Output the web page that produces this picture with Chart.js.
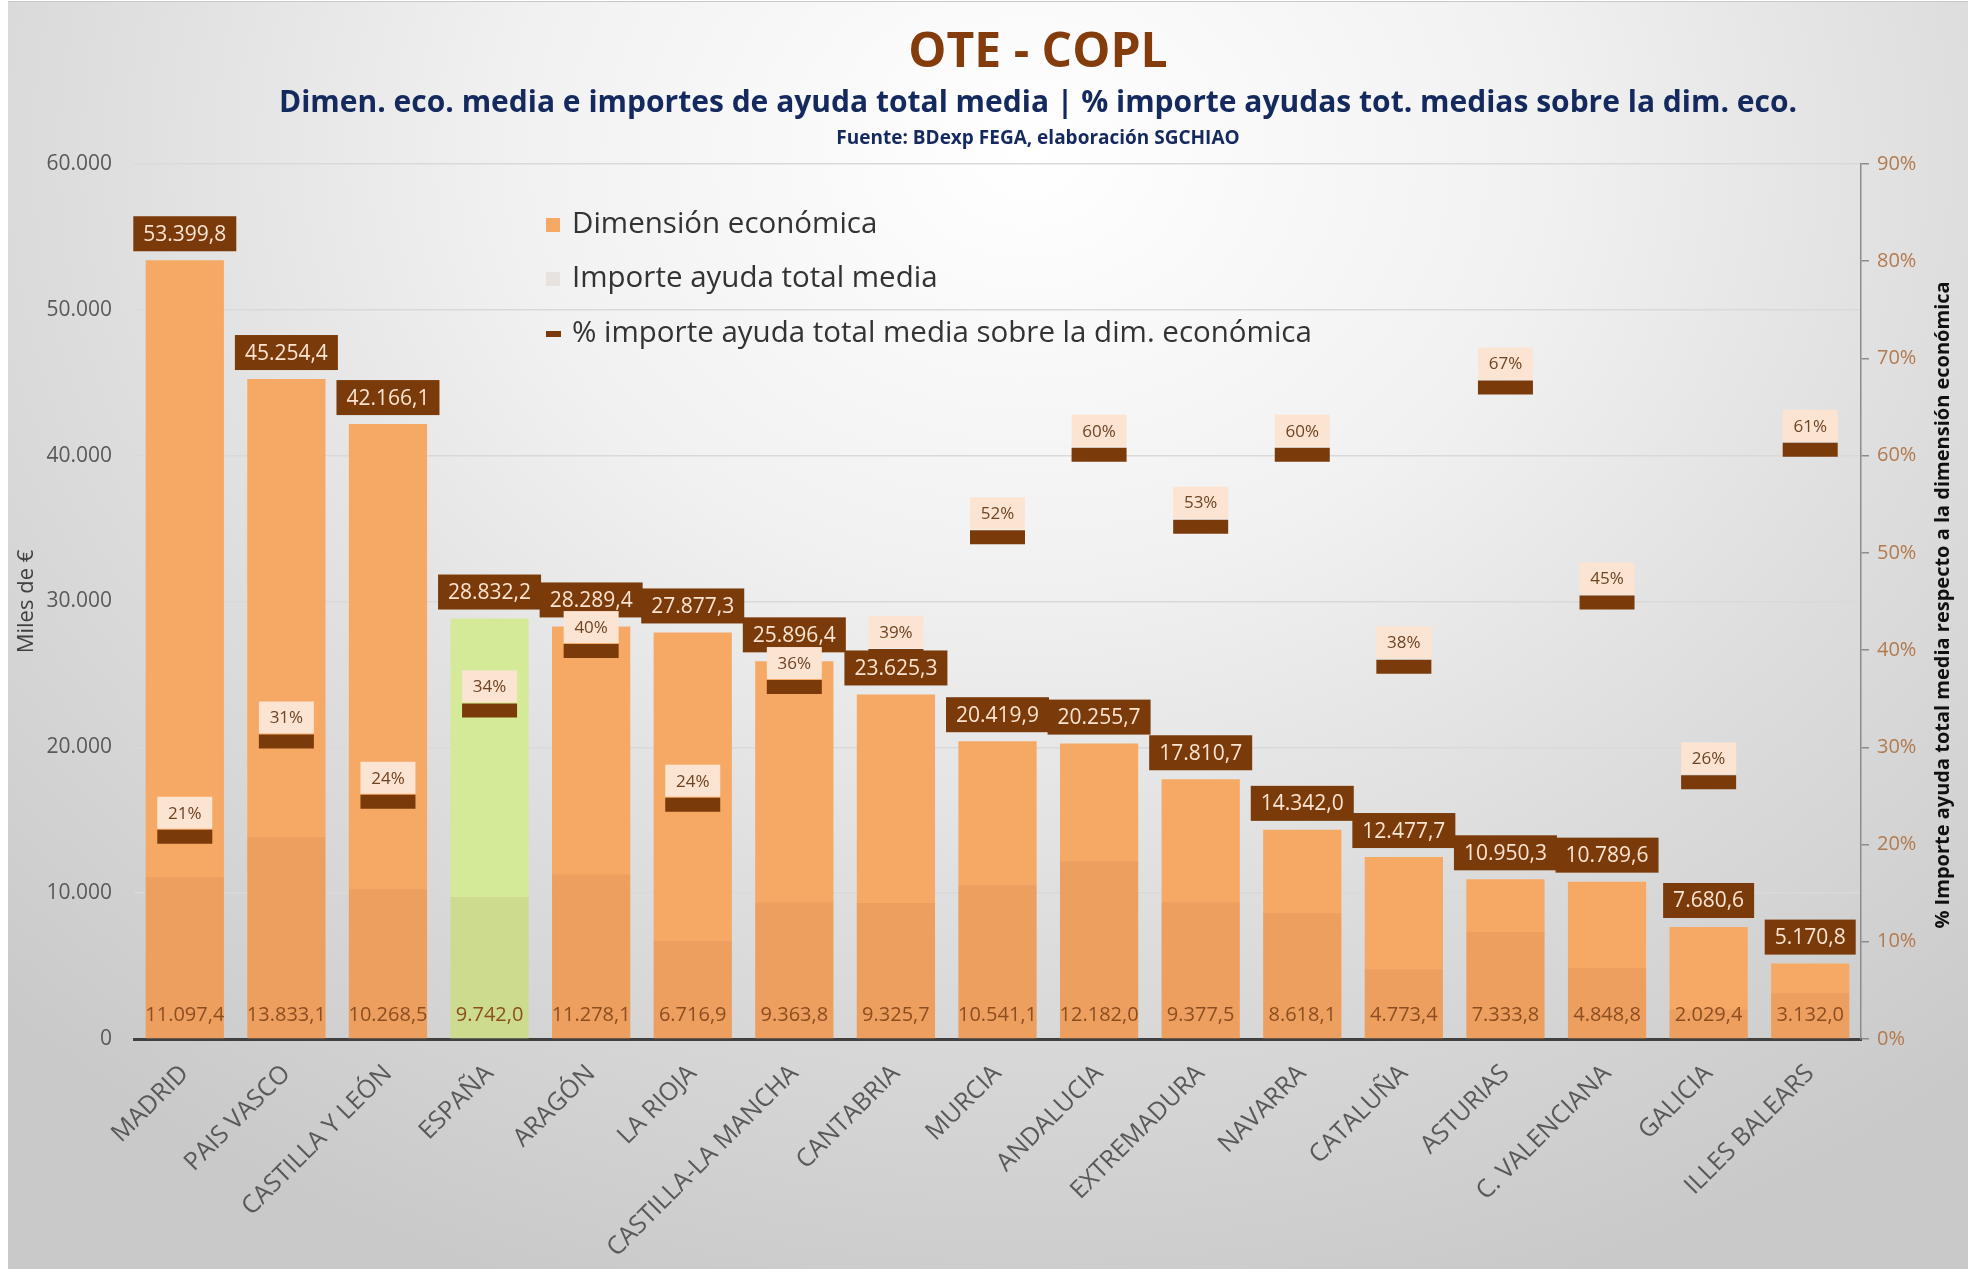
<!DOCTYPE html>
<html>
<head>
<meta charset="utf-8">
<script src="https://cdn.jsdelivr.net/npm/chart.js@4.4.1/dist/chart.umd.min.js"></script>
<style>
html,body{margin:0;padding:0;background:#fff;}
#panel{position:absolute;left:8px;top:1px;width:1960px;height:1267px;border-top:1px solid #c8c8c8;
background:radial-gradient(ellipse 75% 95% at 52% 12%, #ffffff 0%, #f1f1f1 35%, #dddddd 65%, #c9c9c9 100%);}
#c{position:absolute;left:0;top:0;}
</style>
</head>
<body>
<div id="panel"></div>
<canvas id="c" width="1968" height="1272"></canvas>
<script>
// datos
const categorias = ['MADRID','PAIS VASCO','CASTILLA Y LEÓN','ESPAÑA','ARAGÓN','LA RIOJA','CASTILLA-LA MANCHA','CANTABRIA','MURCIA','ANDALUCIA','EXTREMADURA','NAVARRA','CATALUÑA','ASTURIAS','C. VALENCIANA','GALICIA','ILLES BALEARS'];
const dimEconomica = [53399.8,45254.4,42166.1,28832.2,28289.4,27877.3,25896.4,23625.3,20419.9,20255.7,17810.7,14342.0,12477.7,10950.3,10789.6,7680.6,5170.8];
const importeAyuda = [11097.4,13833.1,10268.5,9742.0,11278.1,6716.9,9363.8,9325.7,10541.1,12182.0,9377.5,8618.1,4773.4,7333.8,4848.8,2029.4,3132.0];
const pctAyuda = [20.8,30.6,24.4,33.8,39.9,24.1,36.2,39.4,51.6,60.1,52.7,60.1,38.3,67.0,44.9,26.4,60.6];

const naranja = '#F6A865';
const verde = '#D4EA98';
const capaImporte = 'rgba(140,80,40,0.09)';
const marron = '#7A3A0A';
const melocoton = '#FCE4D2';

Chart.defaults.font.family = "'Open Sans', sans-serif";

function miles(v, dec){
  const p = v.toFixed(dec).split('.');
  p[0] = p[0].replace(/\B(?=(\d{3})+(?!\d))/g, '.');
  return p.join(',');
}

const coloresDim = categorias.map(c => c === 'ESPAÑA' ? verde : naranja);

const etiquetas = {
  id: 'etiquetas',
  beforeDraw(chart){
    const ctx = chart.ctx;
    ctx.save();
    ctx.textAlign = 'center';
    ctx.textBaseline = 'middle';
    ctx.fillStyle = '#843C0C';
    ctx.font = "bold 48px 'Open Sans'";
    ctx.fillText('OTE - COPL', 1038, 53);
    ctx.fillStyle = '#14295E';
    ctx.font = "bold 30px 'Open Sans'";
    ctx.fillText('Dimen. eco. media e importes de ayuda total media | % importe ayudas tot. medias sobre la dim. eco.', 1038, 103);
    ctx.font = "bold 19px 'Open Sans'";
    ctx.fillText('Fuente: BDexp FEGA, elaboración SGCHIAO', 1038, 139);
    ctx.restore();
  },
  afterDatasetsDraw(chart){
    const ctx = chart.ctx;
    const mDim = chart.getDatasetMeta(0);
    const mImp = chart.getDatasetMeta(1);
    const mPct = chart.getDatasetMeta(2);
    ctx.save();
    ctx.textAlign = 'center';
    ctx.textBaseline = 'middle';
    // importe, abajo dentro de la barra
    ctx.font = "20px 'Open Sans'";
    ctx.fillStyle = '#8C4E20';
    mImp.data.forEach((el, i) => {
      ctx.fillText(miles(importeAyuda[i], 1), el.x, chart.chartArea.bottom - 24);
    });
    // dimension, caja marron encima
    ctx.font = "21px 'Open Sans'";
    mDim.data.forEach((el, i) => {
      const t = miles(dimEconomica[i], 1);
      const w = ctx.measureText(t).width + 20;
      const h = 35;
      const yb = el.y - 9;
      ctx.fillStyle = marron;
      ctx.fillRect(el.x - w / 2, yb - h, w, h);
      ctx.fillStyle = melocoton;
      ctx.fillText(t, el.x, yb - h / 2 + 1);
    });
    // porcentaje, caja clara encima del marcador
    ctx.font = "17px 'Open Sans'";
    mPct.data.forEach((el, i) => {
      const w = 55, h = 32;
      const yb = el.y - 8;
      ctx.fillStyle = melocoton;
      ctx.fillRect(el.x - w / 2, yb - h, w, h);
      ctx.fillStyle = '#6E4422';
      ctx.fillText(Math.round(pctAyuda[i]) + '%', el.x, yb - h / 2 + 1);
    });
    ctx.restore();
  },
  afterDraw(chart){
    const ctx = chart.ctx;
    const ds = chart.data.datasets;
    ctx.save();
    // leyenda dentro del area
    const filas = [
      {tipo: 'caja', color: ds[0].legendColor, texto: ds[0].label, y: 225},
      {tipo: 'caja', color: ds[1].backgroundColor, texto: ds[1].label, y: 279},
      {tipo: 'raya', color: ds[2].pointBorderColor, texto: ds[2].label, y: 334}
    ];
    ctx.font = "29.5px 'Open Sans'";
    ctx.textBaseline = 'middle';
    ctx.textAlign = 'left';
    filas.forEach(f => {
      ctx.fillStyle = f.color;
      if (f.tipo === 'caja') ctx.fillRect(546, f.y - 7, 14, 14);
      else ctx.fillRect(546, f.y - 3, 15, 6);
      ctx.fillStyle = '#333333';
      ctx.fillText(f.texto, 572, f.y);
    });
    // titulo del eje derecho
    ctx.translate(1943, 605);
    ctx.rotate(-Math.PI / 2);
    ctx.textAlign = 'center';
    ctx.fillStyle = '#111111';
    ctx.font = "bold 20px 'Open Sans'";
    ctx.fillText('% Importe ayuda total media respecto a la dimensión económica', 0, 0);
    ctx.restore();
  }
};

new Chart(document.getElementById('c'), {
  data: {
    labels: categorias,
    datasets: [
      {
        type: 'bar',
        label: 'Dimensión económica',
        data: dimEconomica,
        backgroundColor: coloresDim,
        legendColor: naranja,
        grouped: false,
        barPercentage: 0.77,
        categoryPercentage: 1,
        order: 3,
        yAxisID: 'y'
      },
      {
        type: 'bar',
        label: 'Importe ayuda total media',
        data: importeAyuda,
        backgroundColor: capaImporte,
        grouped: false,
        barPercentage: 0.77,
        categoryPercentage: 1,
        order: 2,
        yAxisID: 'y'
      },
      {
        type: 'line',
        label: '% importe ayuda total media sobre la dim. económica',
        data: pctAyuda,
        showLine: false,
        pointStyle: 'line',
        pointRadius: 27.5,
        pointHoverRadius: 27.5,
        pointBorderWidth: 14,
        pointBorderColor: marron,
        pointBackgroundColor: marron,
        order: 1,
        yAxisID: 'y1'
      }
    ]
  },
  options: {
    responsive: false,
    animation: false,
    layout: {padding: {top: 164, left: 0, right: 0, bottom: 0}},
    plugins: {
      legend: {display: false},
      tooltip: {enabled: false}
    },
    scales: {
      x: {
        offset: true,
        grid: {display: false, drawTicks: false},
        border: {display: true, color: '#404040', width: 3},
        ticks: {
          autoSkip: false,
          maxRotation: 45,
          minRotation: 45,
          padding: 20,
          color: '#595959',
          font: {size: 25}
        },
        afterFit: s => { s.height = 233; }
      },
      y: {
        position: 'left',
        min: 0,
        max: 60000,
        ticks: {
          stepSize: 10000,
          padding: 22,
          color: '#595959',
          font: {size: 21},
          callback: v => miles(v, 0)
        },
        grid: {color: '#d9d9d9', lineWidth: 1.5, drawTicks: false},
        border: {display: false},
        title: {
          display: true,
          text: 'Miles de €',
          color: '#404040',
          font: {size: 22},
          padding: {top: 14, bottom: 0}
        },
        afterFit: s => { s.width = 134; }
      },
      y1: {
        position: 'right',
        min: 0,
        max: 90,
        ticks: {
          stepSize: 10,
          padding: 8,
          color: '#B27A4E',
          font: {size: 20},
          callback: v => v + '%'
        },
        grid: {drawOnChartArea: false, drawTicks: true, tickLength: 8, color: '#8c8c8c', lineWidth: 1.5},
        border: {display: true, color: '#8c8c8c', width: 1.5},
        afterFit: s => { s.width = 107; }
      }
    }
  },
  plugins: [etiquetas]
});
</script>
</body>
</html>
